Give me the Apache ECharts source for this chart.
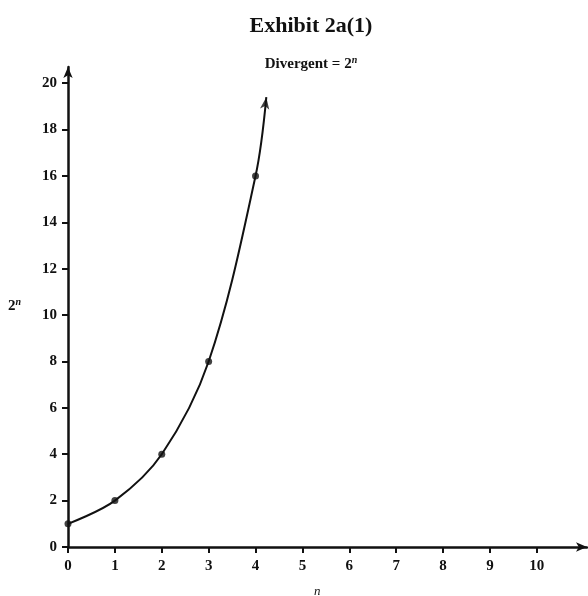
<!DOCTYPE html>
<html>
<head>
<meta charset="utf-8">
<script src="https://cdn.jsdelivr.net/npm/echarts@6/dist/echarts.min.js"></script>
<style>html,body{margin:0;padding:0;background:#fff;}#c{width:588px;height:596px;}</style>
</head>
<body>
<div id="c"></div>
<script>
const nValues = [0, 1, 2, 3, 4];
const powValues = [1, 2, 4, 8, 16];
const curveEnd = [4.23, 19.4];
const xTicks = [0, 1, 2, 3, 4, 5, 6, 7, 8, 9, 10];
const yTicks = [0, 2, 4, 6, 8, 10, 12, 14, 16, 18, 20];

const FONT = 'Liberation Serif';
const INK = '#111';

const pts = nValues.map((n, i) => [n, powValues[i]]);
const curve = pts.concat([curveEnd]);

const chart = echarts.init(document.getElementById('c'), null, {renderer: 'canvas'});
chart.setOption({
  animation: false,
  backgroundColor: '#fff',
  title: [
    {text: 'Exhibit 2a(1)', left: 306, top: 10, textAlign: 'center',
     textStyle: {fontFamily: FONT, fontSize: 22, fontWeight: 'bold', color: INK}},
    {text: 'Divergent = 2{s|n}', left: 306, top: 50, textAlign: 'center',
     textStyle: {fontFamily: FONT, fontSize: 15, fontWeight: 'bold', color: INK,
       rich: {s: {fontFamily: FONT, fontSize: 10, fontStyle: 'italic', fontWeight: 'bold', verticalAlign: 'top', padding: [0,0,8,0], color: INK}}}}
  ],
  grid: {left: 68, right: 1, top: 67, bottom: 49, containLabel: false},
  xAxis: {
    type: 'value', min: 0, max: 11.07,
    axisLine: {show: true, onZero: false, symbol: ['none', 'arrow'], symbolSize: [7, 11], lineStyle: {color: INK, width: 2.5}},
    axisTick: {show: true, length: 6, customValues: xTicks, lineStyle: {color: INK, width: 2}},
    axisLabel: {customValues: xTicks, margin: 12, fontFamily: FONT, fontSize: 15, fontWeight: 'bold', color: INK},
    splitLine: {show: false}
  },
  yAxis: {
    type: 'value', min: 0, max: 20.7,
    axisLine: {show: true, onZero: false, symbol: ['none', 'arrow'], symbolSize: [7, 11], lineStyle: {color: INK, width: 2.5}},
    axisTick: {show: true, length: 6, customValues: yTicks, lineStyle: {color: INK, width: 2}},
    axisLabel: {customValues: yTicks, margin: 11, fontFamily: FONT, fontSize: 15, fontWeight: 'bold', color: INK},
    splitLine: {show: false}
  },
  graphic: [
    {type: 'text', left: 8, top: 297,
     style: {text: '2{s|n}', fontFamily: FONT, fontSize: 15, fontWeight: 'bold', fill: INK,
       rich: {s: {fontFamily: FONT, fontSize: 10, fontStyle: 'italic', fontWeight: 'bold', verticalAlign: 'top', padding: [0,0,8,0], fill: INK}}}},
    {type: 'text', left: 314, top: 585,
     style: {text: 'n', fontFamily: FONT, fontSize: 13, fontStyle: 'italic', fill: INK}}
  ],
  series: [
    {type: 'line', data: curve, smooth: 0.35, showSymbol: false,
     lineStyle: {color: INK, width: 2}, z: 3},
    {type: 'scatter', data: pts, symbol: 'circle', symbolSize: 7,
     itemStyle: {color: INK}, z: 4},
    {type: 'scatter', data: [curveEnd], symbol: 'arrow', symbolSize: [7, 12], symbolRotate: -8,
     itemStyle: {color: INK}, z: 4}
  ]
});
</script>
</body>
</html>
